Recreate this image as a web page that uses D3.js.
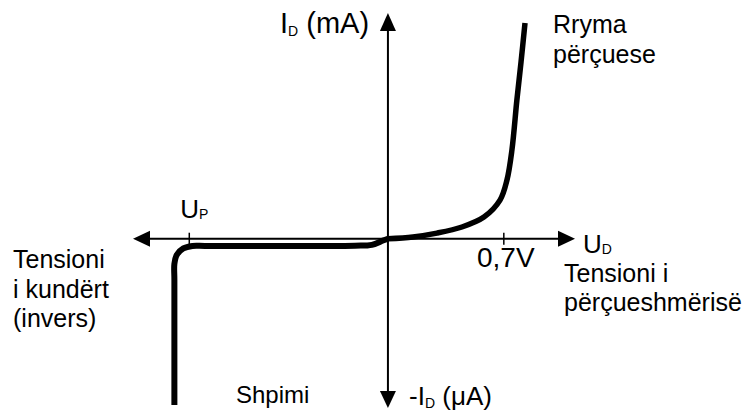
<!DOCTYPE html>
<html><head><meta charset="utf-8">
<script src="https://cdn.jsdelivr.net/npm/d3@7"></script>
<style>body{margin:0;background:#fff}svg{display:block}text{font-family:"Liberation Sans",Arial,sans-serif;fill:#000}</style>
</head><body>
<script>
// Data (voltage in V, current in arbitrary units: + mA, - µA)
const forwardV = [0, 0.151, 0.296, 0.447, 0.580, 0.677, 0.719, 0.749, 0.779, 0.804, 0.828];
const forwardI = [0, 0.08, 0.25, 0.52, 0.96, 1.71, 2.60, 3.93, 6.15, 7.83, 9.56];
const reverseV = [0, -0.030, -0.097, -0.199, -0.700, -1.106, -1.181, -1.236, -1.276, -1.290, -1.290, -1.290];
const reverseI = [0, -0.08, -0.27, -0.31, -0.32, -0.32, -0.32, -0.43, -0.72, -1.12, -1.83, -7.37];
const tickValues = [-1.2, 0.7];
const tickLabels = ["U_P", "0,7V"];
const xDomain = [-1.54, 1.13];
const yDomain = [-7.5, 10];

const W = 752, H = 413;
const svg = d3.select("body").append("svg").attr("width", W).attr("height", H);
const x = d3.scaleLinear().domain(xDomain).range([133, 575]);
const y = d3.scaleLinear().domain(yDomain).range([408, 13]);
const x0 = x(0), y0 = y(0);

// axes
const ax = svg.append("g").attr("stroke", "#000").attr("stroke-width", 2);
ax.append("line").attr("x1", x(xDomain[0]) + 4).attr("x2", x(xDomain[1]) - 4).attr("y1", y0).attr("y2", y0);
ax.append("line").attr("x1", x0).attr("x2", x0).attr("y1", y(yDomain[1]) + 4).attr("y2", y(yDomain[0]) - 4);
const L = 17, HW = 8;
const heads = [
  [[x(xDomain[1]), y0], [x(xDomain[1]) - L, y0 - HW], [x(xDomain[1]) - L, y0 + HW]],
  [[x(xDomain[0]), y0], [x(xDomain[0]) + L, y0 - HW], [x(xDomain[0]) + L, y0 + HW]],
  [[x0, y(yDomain[1])], [x0 - HW, y(yDomain[1]) + L + 1], [x0 + HW, y(yDomain[1]) + L + 1]],
  [[x0, y(yDomain[0])], [x0 - HW, y(yDomain[0]) - L], [x0 + HW, y(yDomain[0]) - L]]
];
svg.append("g").selectAll("path").data(heads).join("path")
  .attr("d", d => "M" + d.join("L") + "Z").attr("fill", "#000");
svg.append("g").selectAll("line").data(tickValues).join("line")
  .attr("x1", d => x(d)).attr("x2", d => x(d)).attr("y1", y0 - 6).attr("y2", y0 + 6)
  .attr("stroke", "#000").attr("stroke-width", 1.5);

// curves
const fwd = forwardV.map((v, i) => [v, forwardI[i]]);
const rev = reverseV.map((v, i) => [v, reverseI[i]]);
svg.append("path").datum(fwd)
  .attr("d", d3.line().x(d => x(d[0])).y(d => y(d[1])).curve(d3.curveCatmullRom.alpha(0.5)))
  .attr("fill", "none").attr("stroke", "#000").attr("stroke-width", 5.5).attr("stroke-linecap", "butt");
svg.append("path").datum(rev)
  .attr("d", d3.line().x(d => x(d[0])).y(d => y(d[1])).curve(d3.curveCatmullRom.alpha(0.5)))
  .attr("fill", "none").attr("stroke", "#000").attr("stroke-width", 6).attr("stroke-linecap", "butt");

// labels
function label(xp, yp, size, parts) {
  const t = svg.append("text").attr("x", xp).attr("y", yp).attr("font-size", size);
  parts.forEach(p => {
    const s = t.append("tspan").text(p[0]);
    if (p[1]) s.attr("font-size", p[1]).attr("dy", p[2]);
  });
  return t;
}
label(280, 33, 29, [["I"], ["D", 14, 3], [" (mA)", 29, -3]]);
label(553, 33, 25, [["Rryma"]]);
label(553, 63, 25, [["përçuese"]]);
label(x(tickValues[0]) - 9, 218, 26, [["U"], ["P", 14, 1]]);
label(583, 253, 26, [["U"], ["D", 14, 1]]);
svg.append("text").attr("x", x(tickValues[1]) + 2).attr("y", 267).attr("font-size", 28).attr("text-anchor", "middle").text(tickLabels[1]);
label(564, 282, 25, [["Tensioni i"]]);
label(564, 311, 25, [["përçueshmërisë"]]);
label(13, 268, 25, [["Tensioni"]]);
label(13, 298, 25, [["i kundërt"]]);
label(13, 327, 25, [["(invers)"]]);
label(236, 403, 24, [["Shpimi"]]);
label(409, 405, 26, [["-I"], ["D", 14, 3], [" (μA)", 26, -3]]);
</script>
</body></html>
